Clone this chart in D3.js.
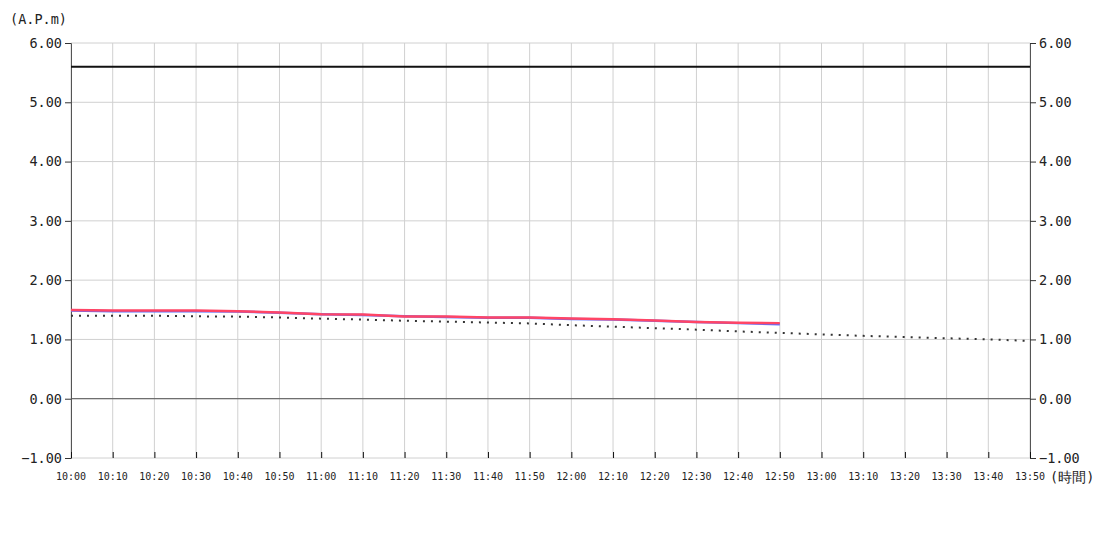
<!DOCTYPE html>
<html><head><meta charset="utf-8">
<script src="https://cdn.jsdelivr.net/npm/d3@7"></script>
<style>
body{margin:0;background:#fff;}
text{font-family:"DejaVu Sans Mono",monospace;fill:#222;}
</style></head>
<body><svg id="c" width="1100" height="550"></svg>
<script>
const times = ["10:00","10:10","10:20","10:30","10:40","10:50","11:00","11:10","11:20","11:30","11:40","11:50","12:00","12:10","12:20","12:30","12:40","12:50","13:00","13:10","13:20","13:30","13:40","13:50"];
const redValues = [1.495,1.49,1.49,1.49,1.475,1.455,1.425,1.42,1.385,1.385,1.37,1.37,1.355,1.34,1.32,1.295,1.28,1.275];
const blueValues = [1.49,1.475,1.475,1.475,1.47,1.45,1.425,1.41,1.39,1.38,1.365,1.365,1.345,1.335,1.315,1.295,1.275,1.255];
const dottedValues = [1.40,1.40,1.40,1.39,1.385,1.37,1.35,1.335,1.315,1.30,1.285,1.27,1.24,1.215,1.19,1.165,1.135,1.11,1.085,1.06,1.04,1.02,1.00,0.975];
const limitValue = 5.6;
const yTicks = [-1,0,1,2,3,4,5,6];

const svg = d3.select("#c");
const L=71,R=1030,T=43,B=458;
const x = d3.scalePoint().domain(times).range([L,R]);
const y = d3.scaleLinear().domain([-1,6]).range([B,T]);

// grid
svg.append("g").selectAll("line").data(times).join("line")
  .attr("x1",d=>x(d)).attr("x2",d=>x(d)).attr("y1",T).attr("y2",B)
  .attr("stroke","#d0d0d0").attr("stroke-width",1);
svg.append("g").selectAll("line").data(yTicks).join("line")
  .attr("x1",L).attr("x2",R).attr("y1",d=>y(d)).attr("y2",d=>y(d))
  .attr("stroke","#d0d0d0").attr("stroke-width",1);
// zero line
svg.append("line").attr("x1",L).attr("x2",R).attr("y1",y(0)).attr("y2",y(0))
  .attr("stroke","#555").attr("stroke-width",1);

// axes
const fmt = d3.format(".2f");
const la = svg.append("g").attr("transform",`translate(${L},0)`)
  .call(d3.axisLeft(y).tickValues(yTicks).tickFormat(fmt).tickSize(6).tickSizeOuter(3));
const ra = svg.append("g").attr("transform",`translate(${R},0)`)
  .call(d3.axisRight(y).tickValues(yTicks).tickFormat(fmt).tickSize(6).tickSizeOuter(3));
[la,ra].forEach(a=>{
  a.selectAll("path").attr("stroke","#555");
  a.selectAll("line").attr("stroke","#333");
  a.selectAll("text").style("font-size","13.5px").attr("fill","#222");
});
const xa = svg.append("g").attr("transform",`translate(0,${B})`)
  .call(d3.axisTop(x).tickSize(6).tickSizeOuter(0));
xa.select("path").remove();
xa.selectAll("line").attr("stroke","#111");
xa.selectAll("text").remove();
svg.append("g").selectAll("text").data(times).join("text")
  .attr("x",d=>x(d)).attr("y",480).attr("text-anchor","middle")
  .style("font-size","10px").attr("fill","#111").text(d=>d);

svg.append("text").attr("x",10).attr("y",24).style("font-size","13.5px").text("(A.P.m)");
svg.append("text").attr("x",1050).attr("y",482).style("font-size","13.5px").text("(時間)");

// limit line
svg.append("line").attr("x1",L).attr("x2",R).attr("y1",y(limitValue)).attr("y2",y(limitValue))
  .attr("stroke","#111").attr("stroke-width",2);

const line = d3.line().x((d,i)=>x(times[i])).y(d=>y(d));
svg.append("path").datum(dottedValues).attr("d",line).attr("fill","none")
  .attr("stroke","#333").attr("stroke-width",2).attr("stroke-dasharray","2,6");
svg.append("path").datum(blueValues).attr("d",line).attr("fill","none")
  .attr("stroke","#5b6fff").attr("stroke-width",2.5);
svg.append("path").datum(redValues).attr("d",line).attr("fill","none")
  .attr("stroke","#ff4566").attr("stroke-width",2.5);
</script></body></html>
